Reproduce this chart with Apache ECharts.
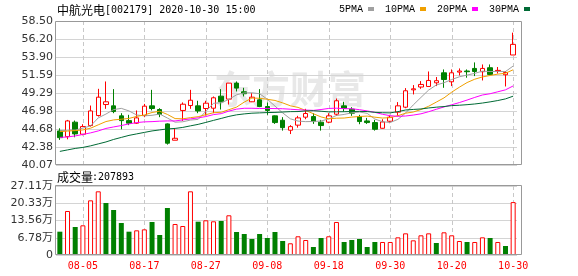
<!DOCTYPE html>
<html><head><meta charset="utf-8">
<script src="https://cdn.jsdelivr.net/npm/echarts@6/dist/echarts.min.js"></script>
<style>html,body{margin:0;padding:0;background:#fff}#c{width:578px;height:276px}</style>
</head><body><div id="c"></div>
<script>
const dates = ['07-31','08-03','08-04','08-05','08-06','08-07','08-10','08-11','08-12','08-13','08-14','08-17','08-18','08-19','08-20','08-21','08-24','08-25','08-26','08-27','08-28','08-31','09-01','09-02','09-03','09-04','09-07','09-08','09-09','09-10','09-11','09-14','09-15','09-16','09-17','09-18','09-21','09-22','09-23','09-24','09-25','09-28','09-29','09-30','10-09','10-12','10-13','10-14','10-15','10-16','10-19','10-20','10-21','10-22','10-23','10-26','10-27','10-28','10-29','10-30'];
const open = [44.43,43.70,45.55,44.01,45.12,46.40,47.81,47.64,46.36,45.75,45.42,46.40,47.64,47.17,45.33,43.24,47.05,47.68,47.64,47.30,47.34,48.88,48.50,50.55,49.44,48.16,48.41,47.55,46.36,45.80,44.52,45.17,46.19,46.27,45.55,45.55,46.57,47.64,47.22,46.27,45.71,45.50,44.77,45.67,46.83,47.47,49.69,50.05,50.12,50.59,51.87,50.72,51.96,52.10,52.43,52.01,52.52,52.10,51.62,54.15];
const close = [43.57,45.71,44.05,44.99,46.99,48.75,48.16,46.91,45.75,45.42,46.10,47.60,47.30,46.53,42.86,43.49,47.85,48.36,46.99,47.98,48.67,48.16,50.55,49.91,49.19,48.75,47.55,47.05,45.50,44.85,44.98,46.10,46.66,45.63,45.12,46.36,48.29,47.30,46.70,45.63,45.50,44.64,45.58,46.19,47.64,49.57,49.82,50.38,50.89,50.86,51.01,51.87,52.10,52.01,52.04,52.43,51.66,52.18,51.91,55.51];
const low = [43.28,43.36,43.62,43.87,44.98,46.27,47.26,46.70,44.64,45.17,45.33,46.19,47.05,46.19,42.68,43.24,45.71,47.26,46.70,46.40,46.70,47.17,47.81,49.48,48.84,48.12,47.47,46.49,45.33,44.47,44.03,44.85,45.93,45.33,44.47,45.42,46.36,46.91,46.36,45.29,45.33,44.47,44.74,45.42,46.36,47.34,49.10,49.82,50.12,50.17,49.95,50.17,51.53,51.24,51.45,50.89,51.58,51.78,50.12,54.15];
const high = [44.77,45.84,45.76,45.29,47.68,49.82,50.76,49.78,46.70,46.49,47.05,47.89,49.69,47.34,45.40,44.72,48.08,49.69,48.29,48.29,48.84,49.78,50.55,50.76,49.95,49.27,49.78,48.08,46.41,46.19,45.17,46.36,47.26,46.70,45.84,46.70,48.58,48.16,47.47,46.49,46.10,45.84,45.93,46.49,48.12,49.91,50.30,50.81,52.04,51.33,52.30,52.30,52.43,52.30,53.20,52.94,52.94,52.61,52.10,57.01];
const ma5 = [44.41,44.54,44.54,44.79,45.07,46.10,46.59,47.16,47.32,46.99,46.47,46.36,46.43,46.59,46.08,45.55,45.60,45.82,45.91,46.93,47.97,48.03,48.47,49.05,49.30,49.31,49.19,48.49,47.61,46.74,45.98,45.69,45.62,45.64,45.70,45.97,46.41,46.54,46.75,46.85,46.68,45.95,45.61,45.51,45.91,46.72,47.76,48.72,49.66,50.31,50.60,51.01,51.36,51.58,51.80,52.08,52.03,52.05,52.03,52.74];
const ma10 = [44.34,44.41,44.47,44.56,44.78,45.21,45.63,45.84,45.93,46.03,46.29,46.47,46.79,46.95,46.54,46.01,45.98,46.13,46.25,46.51,46.76,46.82,47.15,47.48,48.12,48.64,48.61,48.48,48.33,48.02,47.65,47.44,47.05,46.63,46.22,45.98,46.06,46.08,46.20,46.28,46.33,46.19,46.08,46.13,46.38,46.70,46.85,47.17,47.59,48.12,48.66,49.39,50.03,50.62,51.05,51.34,51.53,51.70,51.81,52.26];
const ma20 = [43.60,43.66,43.79,43.98,44.18,44.43,44.75,44.94,45.12,45.33,45.50,45.59,45.62,45.68,45.71,45.71,45.84,45.97,46.10,46.27,46.52,46.64,46.97,47.22,47.33,47.33,47.30,47.31,47.29,47.27,47.21,47.14,47.10,47.06,47.17,47.31,47.34,47.28,47.27,47.15,46.99,46.81,46.56,46.38,46.30,46.34,46.46,46.62,46.89,47.20,47.50,47.78,48.06,48.38,48.72,49.03,49.19,49.44,49.69,50.19];
const ma30 = [41.81,42.00,42.19,42.32,42.52,42.77,43.02,43.34,43.60,43.86,44.05,44.24,44.43,44.56,44.69,44.75,44.88,45.08,45.27,45.52,45.78,46.03,46.29,46.49,46.61,46.70,46.74,46.78,46.80,46.85,46.90,46.91,46.99,47.02,46.95,46.87,46.88,46.89,46.92,46.93,46.91,46.81,46.76,46.74,46.90,47.11,47.18,47.24,47.37,47.47,47.55,47.67,47.72,47.79,47.88,48.00,48.15,48.32,48.53,48.88];
const volumes = [91600,172900,110000,116600,214800,250200,204300,176800,125700,91600,96900,100800,129600,78600,184700,121800,113900,250200,130900,136300,132400,133600,156000,90400,82500,62900,82500,66800,90400,55000,46000,73500,58900,31400,66800,73500,129700,51100,58900,62900,31400,51100,51100,51100,69400,85100,57600,77300,85100,47200,89100,77300,55000,51100,51100,69400,66800,51100,35400,207893];
const volUp = [0,1,0,1,1,1,0,0,0,0,1,1,0,0,0,1,1,1,0,1,1,0,1,0,0,0,0,0,0,0,1,1,1,0,0,1,1,0,0,0,0,0,1,1,1,1,1,1,1,0,1,1,1,0,1,1,0,1,0,1];
const xTickDates = ['08-05','08-17','08-27','09-08','09-18','09-30','10-20','10-30'];
const priceTicks = ['40.07','42.38','44.68','46.98','49.29','51.59','53.90','56.20','58.50'];
const volTicks = ['0','6.78万','13.56万','20.33万','27.11万'];
const maNames = ['5PMA','10PMA','20PMA','30PMA'];
const maColors = ['#a0a0a0','#f0a000','#ff00ff','#006a35'];

const UP = '#ff0000', DOWN = '#008000';
const labelInt = (i, v) => xTickDates.indexOf(v) >= 0;
const candleData = open.map((o, i) => [o, close[i], low[i], high[i]]);
const volData = volumes.map((v, i) => ({
  value: v,
  itemStyle: volUp[i] ? {color: '#fff', borderColor: UP, borderWidth: 1} : {color: DOWN}
}));
const grids = [
  {left: 56, top: 21, width: 461, height: 144},
  {left: 56, top: 186, width: 461, height: 69}
];

const chart = echarts.init(document.getElementById('c'), null, {renderer: 'canvas'});
chart.setOption({
  animation: false,
  backgroundColor: '#fff',
  grid: grids,
  legend: {
    data: maNames, left: 339, top: 4, align: 'right', icon: 'rect',
    itemWidth: 6, itemHeight: 4, itemGap: 11, padding: 0,
    textStyle: {fontFamily: 'Liberation Mono', fontSize: 10, color: '#000'}
  },
  xAxis: [
    {type: 'category', gridIndex: 0, data: dates, axisLine: {show: false}, axisTick: {show: false},
     axisLabel: {show: false}, splitLine: {show: false}},
    {type: 'category', gridIndex: 1, data: dates, axisLine: {show: false}, axisTick: {show: false},
     axisLabel: {interval: labelInt, color: UP, fontFamily: 'DejaVu Sans Mono', fontSize: 10, margin: 6},
     splitLine: {show: false}}
  ],
  yAxis: [
    {type: 'value', gridIndex: 0, min: 40.07, max: 58.50, show: false, splitLine: {show: false}},
    {type: 'value', gridIndex: 0, position: 'left', min: 0, max: 8, interval: 1,
     axisLine: {show: false}, axisTick: {show: false},
     splitLine: {lineStyle: {color: '#d4d4d4'}},
     axisLabel: {formatter: v => priceTicks[Math.round(v)], color: '#333', fontFamily: 'DejaVu Sans', fontSize: 11, margin: 3}},
    {type: 'value', gridIndex: 1, position: 'left', min: 0, max: 271100, interval: 67775,
     axisLine: {show: false}, axisTick: {show: false},
     splitLine: {lineStyle: {color: '#d4d4d4'}},
     axisLabel: {formatter: v => volTicks[Math.round(v / 67775)], color: '#333', fontFamily: 'DejaVu Sans, Noto Sans CJK SC', fontSize: 11, margin: 3}}
  ],
  series: [
    {type: 'candlestick', xAxisIndex: 0, yAxisIndex: 0, data: candleData, barWidth: 5,
     itemStyle: {color: '#fff', color0: DOWN, borderColor: UP, borderColor0: DOWN, borderWidth: 1}},
    ...maNames.map((n, k) => ({
      name: n, type: 'line', xAxisIndex: 0, yAxisIndex: 0,
      data: [ma5, ma10, ma20, ma30][k], showSymbol: false, symbol: 'none',
      lineStyle: {width: 1, color: maColors[k]}, itemStyle: {color: maColors[k]}, z: 3
    })),
    {type: 'bar', xAxisIndex: 1, yAxisIndex: 2, data: volData, barWidth: 5}
  ]
});

// dashed guide lines at labelled dates: x positions come from the category axis itself
const guides = [];
xTickDates.forEach(d => {
  const px = chart.convertToPixel({xAxisIndex: 1}, dates.indexOf(d));
  const x = Math.round(px) + 0.5;
  grids.forEach(g => {
    for (let y = g.top; y < g.top + g.height; y += 7) {
      guides.push({type: 'line', z: 1, silent: true,
        shape: {x1: x, y1: y, x2: x, y2: Math.min(y + 4, g.top + g.height)},
        style: {stroke: '#c8c8c8', lineWidth: 1}});
    }
  });
});

chart.setOption({
  graphic: [
    {type: 'text', x: 214, y: 89, z: -10, silent: true,
     style: {text: '东方财富', font: 'bold 38px "Noto Sans CJK SC"', fill: '#e8e8e8', verticalAlign: 'middle'}},
    ...guides,
    {type: 'rect', z: 100, silent: true, shape: {x: 55.5, y: 21.5, width: 466, height: 143},
     style: {fill: 'none', stroke: '#999', lineWidth: 1}},
    {type: 'rect', z: 100, silent: true, shape: {x: 55.5, y: 185.5, width: 466, height: 69},
     style: {fill: 'none', stroke: '#999', lineWidth: 1}},
    {type: 'text', x: 57, y: 10, style: {text: '中航光电', font: '12px "Noto Sans CJK SC"', fill: '#000', verticalAlign: 'middle'}},
    {type: 'text', x: 105, y: 10, style: {text: '[002179] 2020-10-30 15:00', font: '10px "DejaVu Sans Mono"', fill: '#000', verticalAlign: 'middle'}},
    {type: 'text', x: 57, y: 177, style: {text: '成交量', font: '12px "Noto Sans CJK SC"', fill: '#000', verticalAlign: 'middle'}},
    {type: 'text', x: 92, y: 177, style: {text: ':' + volumes[volumes.length - 1], font: '10px "DejaVu Sans Mono"', fill: '#000', verticalAlign: 'middle'}}
  ]
});
</script></body></html>
